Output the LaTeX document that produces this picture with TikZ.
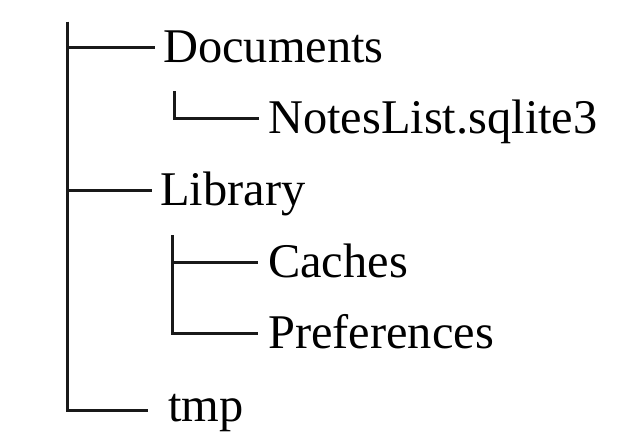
\documentclass[tikz,border=0pt]{standalone}
\usepackage{fontspec}
\setmainfont{Liberation Serif}
\begin{document}
\begin{tikzpicture}[x=1pt,y=-1pt,
  item/.style={anchor=base west,inner sep=0pt,text height=30pt,text depth=0pt,
    font=\fontsize{48.4}{58}\selectfont},
  branch/.style={line width=3pt,draw=black!90}]
\useasboundingbox[fill=white] (0,0) rectangle (640,444);
\node[item] (doc) at (163,63) {Documents};
\node[item] (notes) at (268,133) {NotesList.sqlite3};
\node[item] (lib) at (160,205) {Library};
\node[item] (caches) at (268,277) {Caches};
\node[item] (prefs) at (268,348) {Preferences};
\node[item,text height=22pt] (tmp) at (168,421) {tmp};
\coordinate (root) at (67,22);
\coordinate (docsub) at (174,91);
\coordinate (libsub) at (172,235);
\draw[branch] (root) |- ([xshift=-20pt]tmp.west);
\draw[branch] (root) |- ([xshift=-8pt]doc.west);
\draw[branch] (root) |- ([xshift=-8pt]lib.west);
\draw[branch] (docsub) |- ([xshift=-9pt]notes.west);
\draw[branch] (libsub) |- ([xshift=-10pt]caches.west);
\draw[branch] (libsub) |- ([xshift=-10pt]prefs.west);
\end{tikzpicture}
\end{document}
